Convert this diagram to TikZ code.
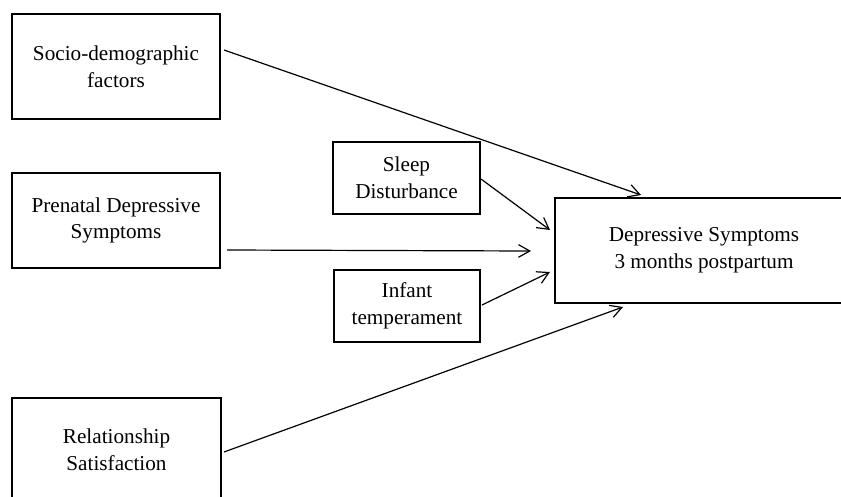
\documentclass[tikz,border=0pt]{standalone}
\usepackage{fontspec}
\setmainfont{Liberation Serif}
\usetikzlibrary{arrows.meta}
\begin{document}
\begin{tikzpicture}[x=0.75pt,y=-0.75pt,
  box/.style={draw, line width=0.9pt, align=center, inner sep=0pt,
    font=\fontsize{15.9}{20}\selectfont},
  arr/.style={line width=0.9pt, -{Straight Barb[length=8.5pt,width=9.5pt,line width=0.9pt]}}]
\useasboundingbox (0,0) rectangle (841,496);
\clip (0,0) rectangle (841,496);
\node[box, minimum width={208*0.75pt}, minimum height={105*0.75pt}] (socio) at (116,66.5) {Socio-demographic\\factors};
\node[box, minimum width={208*0.75pt}, minimum height={95*0.75pt}] (prenatal) at (116,220.5) {Prenatal Depressive\\Symptoms};
\node[box, minimum width={209*0.75pt}, minimum height={103*0.75pt}] (relation) at (116.5,449.5) {Relationship\\Satisfaction};
\node[box, minimum width={147*0.75pt}, minimum height={72*0.75pt}] (sleep) at (406.5,178) {Sleep\\Disturbance};
\node[box, minimum width={146*0.75pt}, minimum height={72*0.75pt}] (infant) at (407,306) {Infant\\temperament};
\node[box, minimum width={298*0.75pt}, minimum height={105*0.75pt}] (dep) at (704,250.5) {Depressive Symptoms\\3 months postpartum};
% connector end points
\coordinate (s1) at (224,50);
\coordinate (d1) at (641,195);
\coordinate (sl1) at (481,179);
\coordinate (d2) at (550,230);
\coordinate (p1) at (227,250);
\coordinate (d3) at (531,251);
\coordinate (i1) at (482,305);
\coordinate (d4) at (550,272);
\coordinate (r1) at (224,452);
\coordinate (d5) at (623,307);
\draw[arr] (s1) -- (d1);
\draw[arr] (sl1) -- (d2);
\draw[arr] (p1) -- (d3);
\draw[arr] (i1) -- (d4);
\draw[arr] (r1) -- (d5);
\end{tikzpicture}
\end{document}
